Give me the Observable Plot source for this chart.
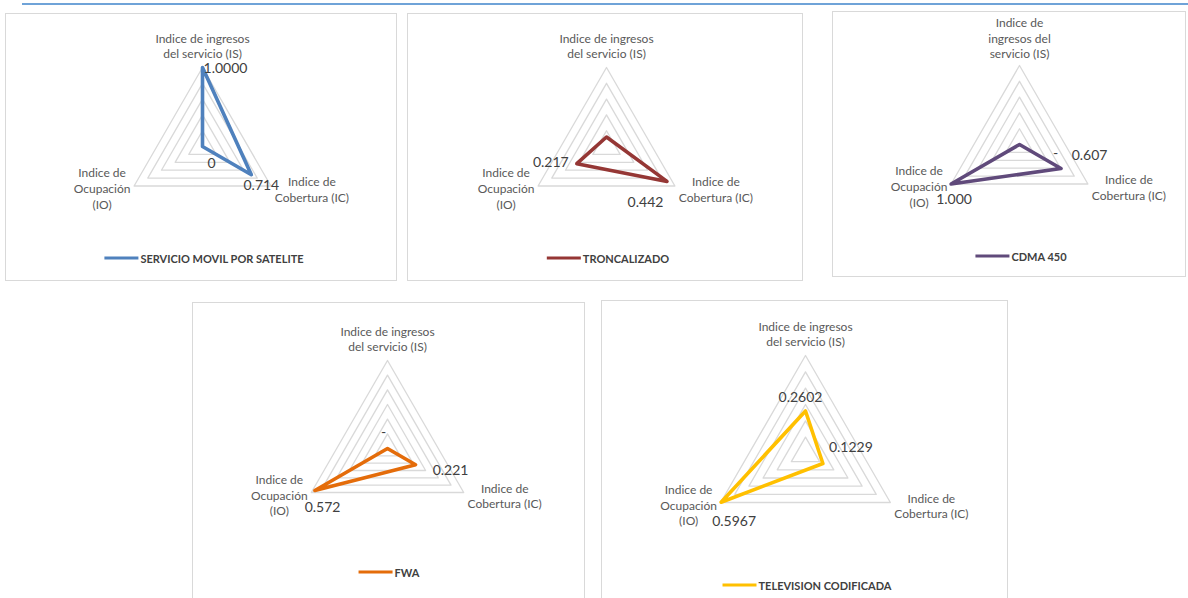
<!DOCTYPE html>
<html><head><meta charset="utf-8">
<script src="https://cdn.jsdelivr.net/npm/d3@7"></script>
<script src="https://cdn.jsdelivr.net/npm/@observablehq/plot@0.6"></script>
<style>
body{margin:0;background:#fff;width:1188px;height:598px;overflow:hidden;position:relative;font-family:Lato,sans-serif}
.topline{position:absolute;left:22px;top:3px;width:1166px;height:2px;background:#6fa3d8}
.panel{position:absolute;border:1px solid #d9d9d9;box-sizing:border-box;background:#fff}
.panel svg{position:absolute;left:0;top:0;overflow:visible}
.legend{position:absolute;display:flex;align-items:center;transform:translate(-50%,-50%);white-space:nowrap;font-weight:700;font-size:11px;color:#404040;font-family:Lato,sans-serif}
.legend i{display:inline-block;width:34px;height:3.5px;margin-right:2px}
</style></head><body>
<div class="topline"></div>
<script>
// ---- data ----
const axisNames = ["Indice de ingresos del servicio (IS)", "Indice de Cobertura (IC)", "Indice de Ocupación (IO)"];
const seriesNames = ["SERVICIO MOVIL POR SATELITE", "TRONCALIZADO", "CDMA 450", "FWA", "TELEVISION CODIFICADA"];
const isValues = [1.0, 0.06, 0, 0, 0.2602];
const icValues = [0.714, 0.442, 0.607, 0.221, 0.1229];
const ioValues = [0, 0.217, 1.0, 0.572, 0.5967];
const isLabels = ["1.0000", "", "-", "-", "0.2602"];
const icLabels = ["0.714", "0.442", "0.607", "0.221", "0.1229"];
const ioLabels = ["0", "0.217", "1.000", "0.572", "0.5967"];
const axisMax = [1, 0.5, 1, 0.6, 0.6];
const ringCount = [5, 5, 5, 6, 6];
const isAxisLabel = ["Indice de ingresos\ndel servicio (IS)", "Indice de ingresos\ndel servicio (IS)", "Indice de\ningresos del\nservicio (IS)", "Indice de ingresos\ndel servicio (IS)", "Indice de ingresos\ndel servicio (IS)"];
const icAxisLabel = ["Indice de\nCobertura (IC)", "Indice de\nCobertura (IC)", "Indice de\nCobertura (IC)", "Indice de\nCobertura (IC)", "Indice de\nCobertura (IC)"];
const ioAxisLabel = ["Indice de\nOcupación\n(IO)", "Indice de\nOcupación\n(IO)", "Indice de\nOcupación\n(IO)", "Indice de\nOcupación\n(IO)", "Indice de\nOcupación\n(IO)"];

// ---- styles / layout ----
const seriesColors = ["#4f81bd", "#953735", "#604a7b", "#e46c0a", "#ffc000"];
const layout = [
  {box: [5, 13, 392, 268], c: [202, 146], R: 79, svgH: 232, legendY: 258},
  {box: [407, 13, 396, 268], c: [606, 146], R: 79, svgH: 232, legendY: 258},
  {box: [832, 11, 354, 266], c: [1019, 144], R: 79, svgH: 230, legendY: 256},
  {box: [192, 302, 393, 300], c: [387, 448], R: 88, svgH: 255, legendY: 572},
  {box: [601, 300, 407, 302], c: [805, 453], R: 98, svgH: 270, legendY: 585}
];
// value label offsets [IS, IC, IO] in px
const valueOffsets = [
  [[23, 1.5], [10, 11], [9, 17]],
  [[0, 0], [-21.5, 21], [-26, -1]],
  [[36, 9], [28.5, -13], [3, 16]],
  [[-4, -16], [35, 6], [7.7, 17]],
  [[-5, -13], [28, -16], [13, 19]]
];
const axisLabelOffsets = [[0, null], [41, 3], [-32, 2]];
const dirs = [[0, 1], [Math.cos(-Math.PI / 6), Math.sin(-Math.PI / 6)], [-Math.cos(-Math.PI / 6), Math.sin(-Math.PI / 6)]];

seriesNames.forEach((name, i) => {
  const L = layout[i];
  const [bx, by, bw, bh] = L.box;
  const w = bw - 2, h = L.svgH, R = L.R;
  const cxl = L.c[0] - bx - 1, cyl = L.c[1] - by - 1;
  const vals = [isValues[i], icValues[i], ioValues[i]];
  const vlabels = [isLabels[i], icLabels[i], ioLabels[i]];
  const alabels = [isAxisLabel[i], icAxisLabel[i], ioAxisLabel[i]];
  const n = ringCount[i], max = axisMax[i];

  const rings = [];
  for (let k = 1; k <= n; k++) dirs.forEach((d, a) => rings.push({k, a, x: d[0] * k / n, y: d[1] * k / n}));
  const pts = vals.map((v, a) => ({a, x: dirs[a][0] * v / max, y: dirs[a][1] * v / max, label: vlabels[a]}));

  const marks = [
    Plot.line(rings, {x: "x", y: "y", z: "k", curve: "linear-closed", stroke: "#d9d9d9", strokeWidth: 1.3}),
    Plot.line(pts, {x: "x", y: "y", curve: "linear-closed", stroke: seriesColors[i], strokeWidth: 3.6, strokeLinejoin: "round"})
  ];
  dirs.forEach((d, a) => {
    const nl = alabels[a].split("\n").length;
    const dy = a === 0 ? -16 - (nl - 1) * 6 : axisLabelOffsets[a][1];
    marks.push(Plot.text([{x: d[0], y: d[1], t: alabels[a]}], {x: "x", y: "y", text: "t", dx: axisLabelOffsets[a][0], dy, fill: "#595959", fontSize: 12, lineHeight: 1.3, lineAnchor: "middle", textAnchor: "middle", fontFamily: "Lato"}));
    const p = pts[a];
    if (p.label) marks.push(Plot.text([p], {x: "x", y: "y", text: "label", dx: valueOffsets[i][a][0], dy: valueOffsets[i][a][1], fill: "#404040", fontSize: 14, textAnchor: "middle", lineAnchor: "middle", fontFamily: "Lato"}));
  });

  const chart = Plot.plot({
    width: w, height: h, margin: 0,
    x: {domain: [-cxl / R, (w - cxl) / R], axis: null},
    y: {domain: [(cyl - h) / R, cyl / R], axis: null},
    style: {background: "transparent", overflow: "visible"},
    marks
  });
  const panel = document.createElement("div");
  panel.className = "panel";
  Object.assign(panel.style, {left: bx + "px", top: by + "px", width: bw + "px", height: bh + "px"});
  panel.appendChild(chart);
  const leg = document.createElement("div");
  leg.className = "legend";
  leg.style.left = (L.c[0] + 2 - bx - 1) + "px";
  leg.style.top = (L.legendY - by - 1) + "px";
  leg.innerHTML = `<i style="background:${seriesColors[i]}"></i><span>${name}</span>`;
  panel.appendChild(leg);
  document.body.appendChild(panel);
});
</script>
</body></html>
